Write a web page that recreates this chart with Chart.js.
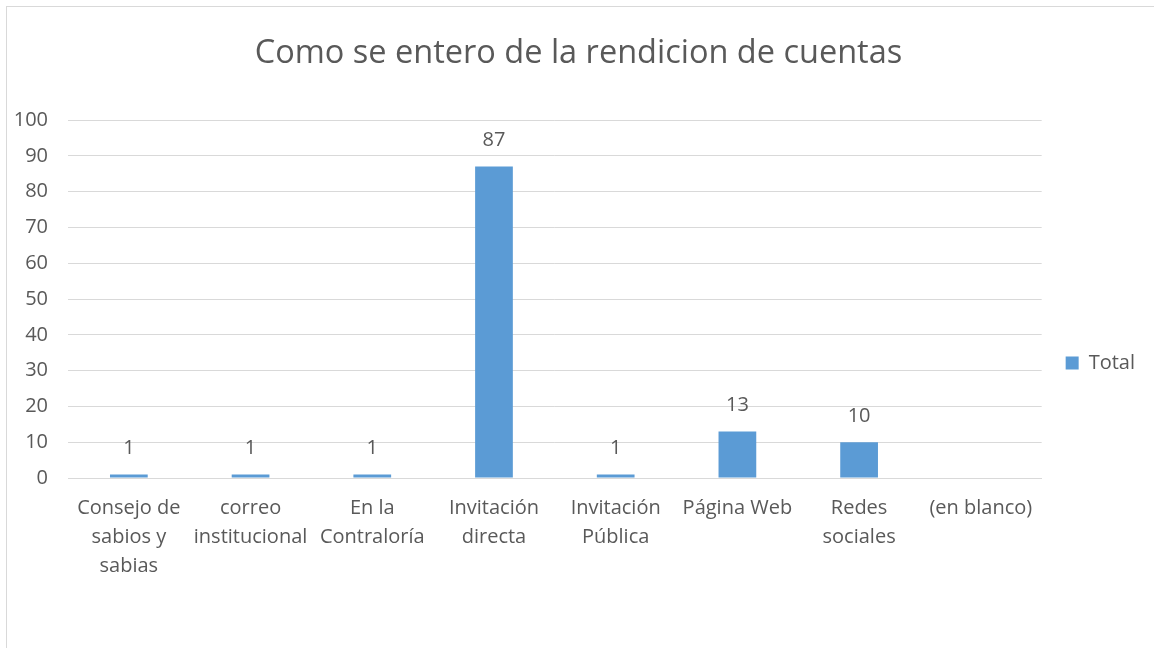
<!DOCTYPE html>
<html>
<head>
<meta charset="utf-8">
<script src="https://cdn.jsdelivr.net/npm/chart.js@4"></script>
<style>
    html, body { margin: 0; padding: 0; background: #fff; }
    #wrap { position: relative; width: 1154px; height: 648px; overflow: hidden; }
    #frame {
        position: absolute; left: 6px; top: 6px; width: 1170px; height: 680px;
        border: 1.5px solid #d9d9d9; box-sizing: border-box;
    }
    canvas { position: absolute; left: 0; top: 0; }
</style>
</head>
<body>
<div id="wrap">
    <div id="frame"></div>
    <canvas id="chart" width="1154" height="648"></canvas>
</div>
<script>
// Chart data
const categories = [
    ['Consejo de', 'sabios y', 'sabias'],
    ['correo', 'institucional'],
    ['En la', 'Contraloría'],
    ['Invitación', 'directa'],
    ['Invitación', 'Pública'],
    'Página Web',
    ['Redes', 'sociales'],
    '(en blanco)'
];
const totals = [1, 1, 1, 87, 1, 13, 10, null];
const yTicks = [0, 10, 20, 30, 40, 50, 60, 70, 80, 90, 100];

const textColor = '#595959';
const gridColor = '#d9d9d9';
const barColor = '#5b9bd5';
const fontFamily = "'Open Sans', sans-serif";

// Value labels above each bar
const valueLabels = {
    id: 'valueLabels',
    afterDatasetsDraw(chart) {
        const ctx = chart.ctx;
        const meta = chart.getDatasetMeta(0);
        ctx.save();
        ctx.fillStyle = textColor;
        ctx.font = '20px ' + fontFamily;
        ctx.textAlign = 'center';
        ctx.textBaseline = 'middle';
        meta.data.forEach((bar, i) => {
            const v = totals[i];
            if (v === null || v === undefined) return;
            ctx.fillText(String(v), bar.x, bar.y - 26);
        });
        ctx.restore();
    }
};

new Chart(document.getElementById('chart').getContext('2d'), {
    type: 'bar',
    data: {
        labels: categories,
        datasets: [{
            label: 'Total',
            data: totals,
            backgroundColor: barColor,
            borderWidth: 0,
            barPercentage: 0.62,
            categoryPercentage: 0.5
        }]
    },
    options: {
        responsive: false,
        animation: false,
        devicePixelRatio: 1,
        layout: { padding: { left: 12, right: 9, top: 0, bottom: 51 } },
        plugins: {
            title: {
                display: true,
                text: 'Como se entero de la rendicion de cuentas',
                color: textColor,
                font: { family: fontFamily, size: 32.5, weight: 'normal', lineHeight: 1.2 },
                padding: { top: 34, bottom: 47 }
            },
            legend: {
                position: 'right',
                // empty legend title pushes the entry down the right side
                title: {
                    display: true,
                    text: '',
                    font: { size: 1, lineHeight: 1 },
                    padding: { top: 0, bottom: 128 }
                },
                labels: {
                    color: textColor,
                    font: { family: fontFamily, size: 20 },
                    boxWidth: 13,
                    boxHeight: 13,
                    padding: 24
                }
            },
            tooltip: { enabled: false }
        },
        scales: {
            x: {
                grid: { display: false, drawTicks: false },
                border: { display: true, color: gridColor, width: 1 },
                ticks: {
                    color: textColor,
                    font: { family: fontFamily, size: 20, lineHeight: 1.45 },
                    padding: 16,
                    maxRotation: 0,
                    autoSkip: false
                }
            },
            y: {
                min: 0,
                max: 100,
                afterBuildTicks(axis) {
                    axis.ticks = yTicks.map(v => ({ value: v }));
                },
                afterFit(axis) {
                    axis.width = 56;
                },
                grid: { color: gridColor, lineWidth: 1, drawTicks: false },
                border: { display: false },
                ticks: {
                    color: textColor,
                    font: { family: fontFamily, size: 20 },
                    padding: 20
                }
            }
        }
    },
    plugins: [valueLabels]
});
</script>
</body>
</html>
